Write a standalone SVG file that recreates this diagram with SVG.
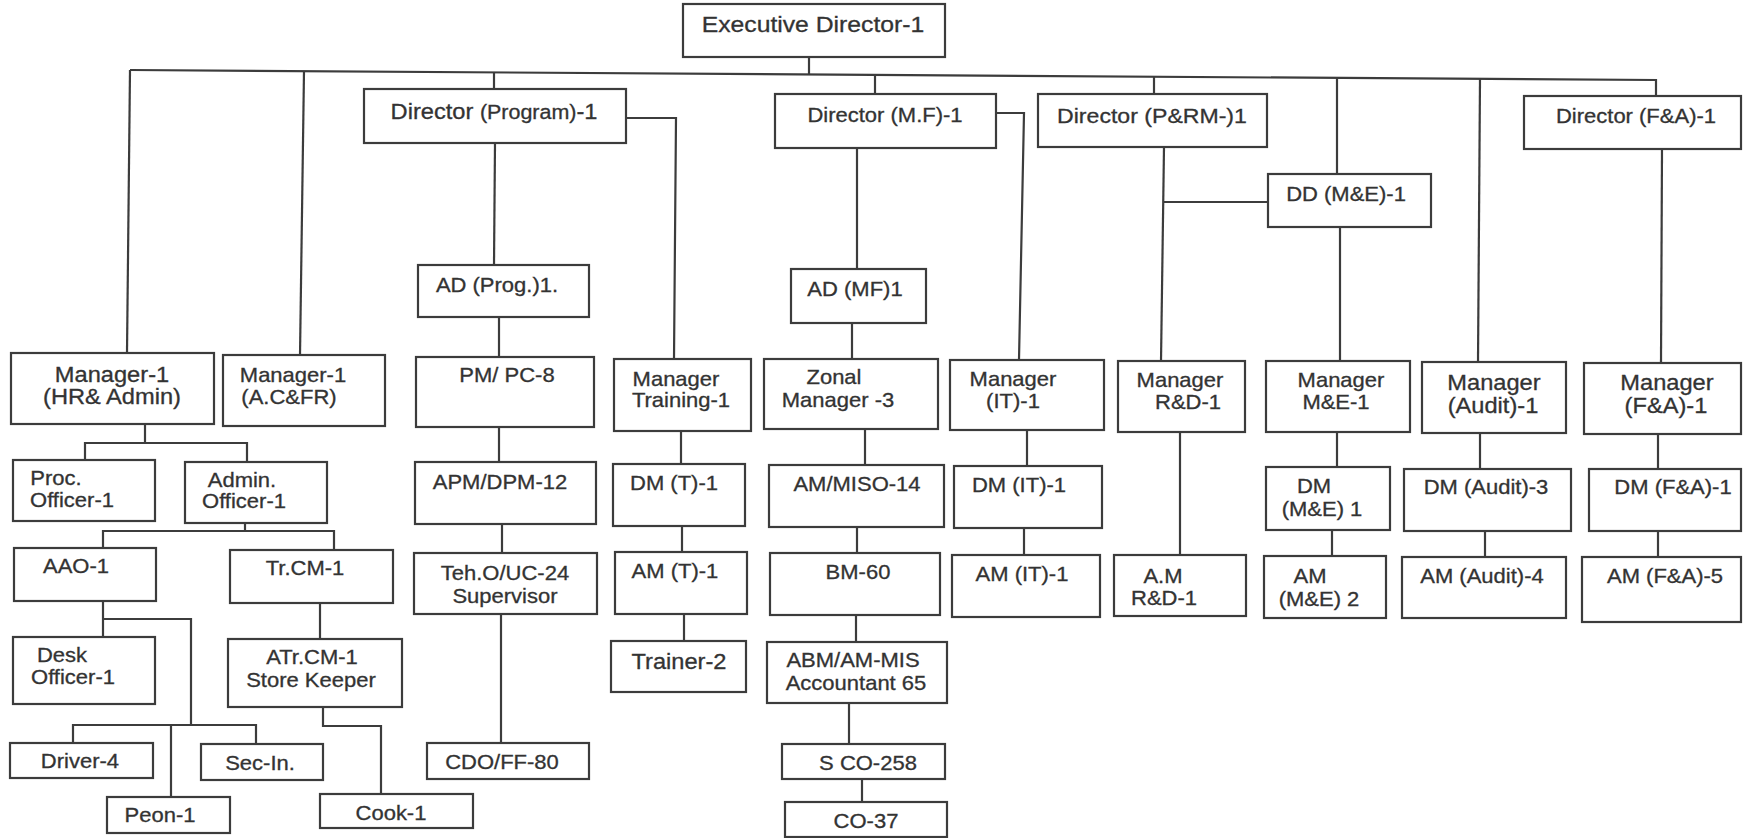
<svg xmlns="http://www.w3.org/2000/svg" width="1743" height="838" viewBox="0 0 1743 838">
<style>
rect.b { fill: #fff; stroke: #3c3c3c; stroke-width: 2.2; }
#connectors path { fill: none; stroke: #3c3c3c; stroke-width: 2.2; }
text { font-family: "Liberation Sans", Arial, sans-serif; fill: #333; stroke: #333; stroke-width: 0.3; font-size: 20px; text-anchor: middle; transform-box: fill-box; transform-origin: center; transform: scaleX(1.1); }
text.lg { font-size: 21.5px; }
text.xl { font-size: 22.5px; }
</style>
<rect x="0" y="0" width="1743" height="838" fill="#fff"/>
<g id="connectors">
<path d="M130 70 L1656 80 L1656 96"/>
<path d="M809 57 V74.4"/>
<path d="M130 70 L127 353"/>
<path d="M304 71 L300 355"/>
<path d="M494 72.4 V89"/>
<path d="M875 74.9 V94"/>
<path d="M1154 76.7 V94"/>
<path d="M1337 77.9 V174"/>
<path d="M1480 78.8 L1478 362"/>
<path d="M495 143 L494 265"/>
<path d="M499 317 V357"/>
<path d="M499 427 V462"/>
<path d="M502 524 V553"/>
<path d="M501 614 V743"/>
<path d="M626 118 H676 L674 359"/>
<path d="M857 148 V269"/>
<path d="M852 323 V359"/>
<path d="M865 429 V465"/>
<path d="M857 527 V553"/>
<path d="M856 615 V642"/>
<path d="M849 703 V744"/>
<path d="M862 779 V802"/>
<path d="M996 113 H1024 L1019 360"/>
<path d="M1164 147 L1161 361"/>
<path d="M1164 202 H1268"/>
<path d="M1340 227 V361"/>
<path d="M1662 149 L1661 363"/>
<path d="M1337 432 V467"/>
<path d="M1332 530 V556"/>
<path d="M1480 433 V469"/>
<path d="M1485 531 V557"/>
<path d="M1658 434 V469"/>
<path d="M1658 531 V557"/>
<path d="M1180 432 V555"/>
<path d="M681 431 V464"/>
<path d="M682 526 V552"/>
<path d="M684 614 V641"/>
<path d="M1027 430 V466"/>
<path d="M1024 528 V555"/>
<path d="M145 424 V443 M85 460 V443 H247 V462"/>
<path d="M245 523 V531 M103 548 V531 H334 V550"/>
<path d="M103 601 V637 M103 619 H191 V725 M73 743 V725 H256 V744 M171 725 V797"/>
<path d="M320 603 V639"/>
<path d="M323 707 V726 H381 V794"/>
</g>
<g id="n-ed"><rect class="b" x="683" y="4" width="262" height="53"/><text class="xl" x="813" y="32">Executive Director-1</text></g>
<g id="n-dprog"><rect class="b" x="364" y="89" width="262" height="54"/><text x="494" y="119"><tspan font-size="21.5">Director </tspan><tspan font-size="19.5">(Program)</tspan><tspan font-size="21.5">-1</tspan></text></g>
<g id="n-dmf"><rect class="b" x="775" y="94" width="221" height="54"/><text x="885" y="122">Director (M.F)-1</text></g>
<g id="n-dprm"><rect class="b" x="1038" y="94" width="229" height="53"/><text x="1152" y="123" style="font-size:21px">Director (P&amp;RM-)1</text></g>
<g id="n-dfa"><rect class="b" x="1524" y="96" width="217" height="53"/><text x="1636" y="123">Director (F&amp;A)-1</text></g>
<g id="n-dd"><rect class="b" x="1268" y="174" width="163" height="53"/><text x="1346" y="201">DD (M&amp;E)-1</text></g>
<g id="n-adp"><rect class="b" x="418" y="265" width="171" height="52"/><text x="497" y="292">AD (Prog.)1.</text></g>
<g id="n-admf"><rect class="b" x="791" y="269" width="135" height="54"/><text x="855" y="296">AD (MF)1</text></g>
<g id="n-mhr"><rect class="b" x="11" y="353" width="203" height="71"/><text class="lg" x="112" y="382">Manager-1</text><text class="lg" x="112" y="404">(HR&amp; Admin)</text></g>
<g id="n-mac"><rect class="b" x="223" y="355" width="162" height="71"/><text x="293" y="382">Manager-1</text><text x="289" y="404">(A.C&amp;FR)</text></g>
<g id="n-pm"><rect class="b" x="416" y="357" width="178" height="70"/><text x="507" y="382">PM/ PC-8</text></g>
<g id="n-mt"><rect class="b" x="614" y="359" width="137" height="72"/><text x="676" y="386">Manager</text><text x="681" y="407">Training-1</text></g>
<g id="n-zm"><rect class="b" x="764" y="359" width="174" height="70"/><text x="834" y="384">Zonal</text><text x="838" y="407">Manager -3</text></g>
<g id="n-mit"><rect class="b" x="950" y="360" width="154" height="70"/><text x="1013" y="386">Manager</text><text x="1013" y="408">(IT)-1</text></g>
<g id="n-mrd"><rect class="b" x="1118" y="361" width="127" height="71"/><text x="1180" y="387">Manager</text><text x="1188" y="409">R&amp;D-1</text></g>
<g id="n-mme"><rect class="b" x="1266" y="361" width="144" height="71"/><text x="1341" y="387">Manager</text><text x="1336" y="409">M&amp;E-1</text></g>
<g id="n-mau"><rect class="b" x="1422" y="362" width="144" height="71"/><text class="lg" x="1494" y="390">Manager</text><text class="lg" x="1493" y="413">(Audit)-1</text></g>
<g id="n-mfa"><rect class="b" x="1584" y="363" width="157" height="71"/><text class="lg" x="1667" y="390">Manager</text><text class="lg" x="1666" y="413">(F&amp;A)-1</text></g>
<g id="n-proc"><rect class="b" x="13" y="460" width="142" height="61"/><text x="56" y="485">Proc.</text><text x="72" y="507">Officer-1</text></g>
<g id="n-admo"><rect class="b" x="185" y="462" width="142" height="61"/><text x="242" y="487">Admin.</text><text x="244" y="508">Officer-1</text></g>
<g id="n-apm"><rect class="b" x="415" y="462" width="181" height="62"/><text x="500" y="489">APM/DPM-12</text></g>
<g id="n-dmt"><rect class="b" x="613" y="464" width="132" height="62"/><text x="674" y="490">DM (T)-1</text></g>
<g id="n-miso"><rect class="b" x="769" y="465" width="175" height="62"/><text x="857" y="491">AM/MISO-14</text></g>
<g id="n-dmit"><rect class="b" x="954" y="466" width="148" height="62"/><text x="1019" y="492">DM (IT)-1</text></g>
<g id="n-dmme"><rect class="b" x="1266" y="467" width="124" height="63"/><text x="1314" y="493">DM</text><text x="1322" y="516">(M&amp;E) 1</text></g>
<g id="n-dmau"><rect class="b" x="1404" y="469" width="167" height="62"/><text x="1486" y="494">DM (Audit)-3</text></g>
<g id="n-dmfa"><rect class="b" x="1589" y="469" width="152" height="62"/><text x="1673" y="494">DM (F&amp;A)-1</text></g>
<g id="n-aao"><rect class="b" x="14" y="548" width="142" height="53"/><text x="76" y="573">AAO-1</text></g>
<g id="n-trcm"><rect class="b" x="230" y="550" width="163" height="53"/><text x="305" y="575">Tr.CM-1</text></g>
<g id="n-teh"><rect class="b" x="414" y="553" width="183" height="61"/><text x="505" y="580">Teh.O/UC-24</text><text x="505" y="603">Supervisor</text></g>
<g id="n-amt"><rect class="b" x="615" y="552" width="132" height="62"/><text x="675" y="578">AM (T)-1</text></g>
<g id="n-bm"><rect class="b" x="770" y="553" width="170" height="62"/><text x="858" y="579">BM-60</text></g>
<g id="n-amit"><rect class="b" x="952" y="555" width="148" height="62"/><text x="1022" y="581">AM (IT)-1</text></g>
<g id="n-amrd"><rect class="b" x="1114" y="555" width="132" height="61"/><text x="1163" y="583">A.M</text><text x="1164" y="605">R&amp;D-1</text></g>
<g id="n-amme"><rect class="b" x="1264" y="556" width="122" height="62"/><text x="1310" y="583">AM</text><text x="1319" y="606">(M&amp;E) 2</text></g>
<g id="n-amau"><rect class="b" x="1402" y="557" width="164" height="61"/><text x="1482" y="583">AM (Audit)-4</text></g>
<g id="n-amfa"><rect class="b" x="1582" y="557" width="159" height="65"/><text x="1665" y="583">AM (F&amp;A)-5</text></g>
<g id="n-desk"><rect class="b" x="13" y="637" width="142" height="67"/><text x="62" y="662">Desk</text><text x="73" y="684">Officer-1</text></g>
<g id="n-atr"><rect class="b" x="228" y="639" width="174" height="68"/><text x="312" y="664">ATr.CM-1</text><text x="311" y="687">Store Keeper</text></g>
<g id="n-trn"><rect class="b" x="611" y="641" width="135" height="51"/><text class="lg" x="679" y="669">Trainer-2</text></g>
<g id="n-abm"><rect class="b" x="767" y="642" width="180" height="61"/><text x="853" y="667">ABM/AM-MIS</text><text x="856" y="690">Accountant 65</text></g>
<g id="n-cdo"><rect class="b" x="427" y="743" width="162" height="36"/><text x="502" y="769">CDO/FF-80</text></g>
<g id="n-drv"><rect class="b" x="10" y="743" width="143" height="35"/><text x="80" y="768">Driver-4</text></g>
<g id="n-sec"><rect class="b" x="201" y="744" width="122" height="36"/><text x="260" y="770">Sec-In.</text></g>
<g id="n-peon"><rect class="b" x="107" y="797" width="123" height="36"/><text x="160" y="822">Peon-1</text></g>
<g id="n-cook"><rect class="b" x="320" y="794" width="153" height="34"/><text x="391" y="820">Cook-1</text></g>
<g id="n-sco"><rect class="b" x="782" y="744" width="163" height="35"/><text x="868" y="770">S CO-258</text></g>
<g id="n-co"><rect class="b" x="785" y="802" width="162" height="35"/><text x="866" y="828">CO-37</text></g>
</svg>
